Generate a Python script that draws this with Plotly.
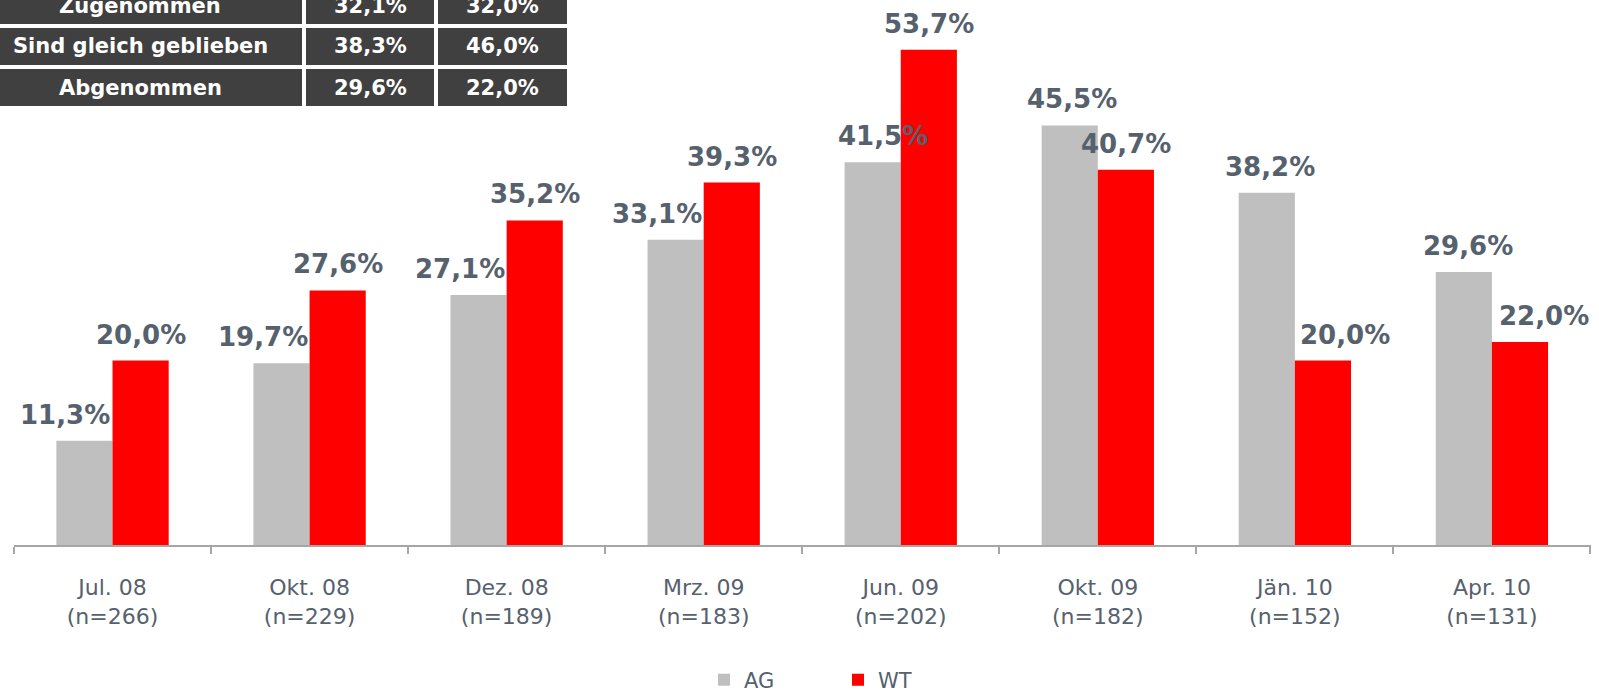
import plotly.graph_objects as go

# ---------------- data ----------------
categories = ["Jul. 08", "Okt. 08", "Dez. 08", "Mrz. 09", "Jun. 09", "Okt. 09", "Jän. 10", "Apr. 10"]
sample_sizes = [266, 229, 189, 183, 202, 182, 152, 131]
ag_values = [11.3, 19.7, 27.1, 33.1, 41.5, 45.5, 38.2, 29.6]
wt_values = [20.0, 27.6, 35.2, 39.3, 53.7, 40.7, 20.0, 22.0]

table_rows = ["Zugenommen", "Sind gleich geblieben", "Abgenommen"]
table_ag = [32.1, 38.3, 29.6]
table_wt = [32.0, 46.0, 22.0]

# ---------------- style ----------------
FONT = "DejaVu Sans"
LABEL_COLOR = "#56616E"
AG_COLOR = "#BFBFBF"
WT_COLOR = "#FF0000"
AXIS_COLOR = "#A6A6A6"
TABLE_FILL = "#404040"

W, H = 1599, 694
ML, MR, MT, MB = 14, 8, 0, 149
PW, PH = W - ML - MR, H - MT - MB

# horizontal nudges of the value labels (px), style only
ag_label_dx = [-19, -18, -19, -19, 10, 2, 3, 4]
wt_label_dx = [0, 0, 0, 0, 0, 0, 22, 24]


def pct(v):
    return f"{v:.1f}".replace(".", ",") + "%"


def xp(px):
    return (px - ML) / PW


def yp(py):
    return (H - MB - py) / PH


x_labels = [f"{c}<br>(n={n})" for c, n in zip(categories, sample_sizes)]

fig = go.Figure()
fig.add_trace(go.Bar(name="AG", x=x_labels, y=ag_values, marker_color=AG_COLOR,
                     marker_line_width=0, hoverinfo="skip"))
fig.add_trace(go.Bar(name="WT", x=x_labels, y=wt_values, marker_color=WT_COLOR,
                     marker_line_width=0, hoverinfo="skip"))

BARGAP = 0.43
cat_px = PW / len(categories)
half_bar = (1 - BARGAP) / 2 * cat_px / 2

annotations = []
for xl, v, dx in zip(x_labels, ag_values, ag_label_dx):
    annotations.append(dict(x=xl, y=v, xref="x", yref="y", text=pct(v), showarrow=False,
                            xanchor="center", yanchor="middle", xshift=-half_bar + dx, yshift=26,
                            font=dict(family=FONT, size=26, color=LABEL_COLOR, weight="bold")))
for xl, v, dx in zip(x_labels, wt_values, wt_label_dx):
    annotations.append(dict(x=xl, y=v, xref="x", yref="y", text=pct(v), showarrow=False,
                            xanchor="center", yanchor="middle", xshift=half_bar + dx, yshift=26,
                            font=dict(family=FONT, size=26, color=LABEL_COLOR, weight="bold")))

# ---------------- summary table (top-left) ----------------
col_edges = [(0, 302), (306, 434), (438, 567)]
col_text_center = [140, 370, 502]
shapes = []
for i, (name, a, w) in enumerate(zip(table_rows, table_ag, table_wt)):
    top = -13 + 41 * i
    bot = top + 37
    texts = [name, pct(a), pct(w)]
    for (x0, x1), xc, t in zip(col_edges, col_text_center, texts):
        shapes.append(dict(type="rect", xref="paper", yref="paper",
                           x0=xp(x0), x1=xp(x1), y0=yp(bot), y1=yp(top),
                           fillcolor=TABLE_FILL, line=dict(width=0), layer="above"))
        annotations.append(dict(x=xp(xc), y=yp((top + bot) / 2), xref="paper", yref="paper",
                                text=t, showarrow=False, xanchor="center", yanchor="middle",
                                font=dict(family=FONT, size=21, color="white", weight="bold")))

fig.update_layout(
    width=W, height=H,
    margin=dict(l=ML, r=MR, t=MT, b=MB),
    paper_bgcolor="white", plot_bgcolor="white",
    barmode="group", bargap=BARGAP, bargroupgap=0,
    font=dict(family=FONT, color=LABEL_COLOR),
    showlegend=True,
    hovermode=False,
    legend=dict(orientation="h", xref="paper", x=xp(704), xanchor="left",
                yref="container", y=1 - 680 / H, yanchor="middle",
                font=dict(family=FONT, size=21, color=LABEL_COLOR),
                entrywidth=89, bgcolor="rgba(0,0,0,0)"),
    annotations=annotations,
    shapes=shapes,
)
fig.update_xaxes(showline=True, linecolor=AXIS_COLOR, linewidth=2,
                 ticks="outside", tickson="boundaries", ticklen=7, tickwidth=2, tickcolor=AXIS_COLOR,
                 tickfont=dict(family=FONT, size=22, color=LABEL_COLOR), ticklabelstandoff=22,
                 showgrid=False, zeroline=False, fixedrange=True)
fig.update_yaxes(visible=False, range=[0, 59.1], showgrid=False, zeroline=False, fixedrange=True)

fig.write_html("out.html", config={"displayModeBar": False, "staticPlot": True},
               post_script="document.body.style.margin='0';")
